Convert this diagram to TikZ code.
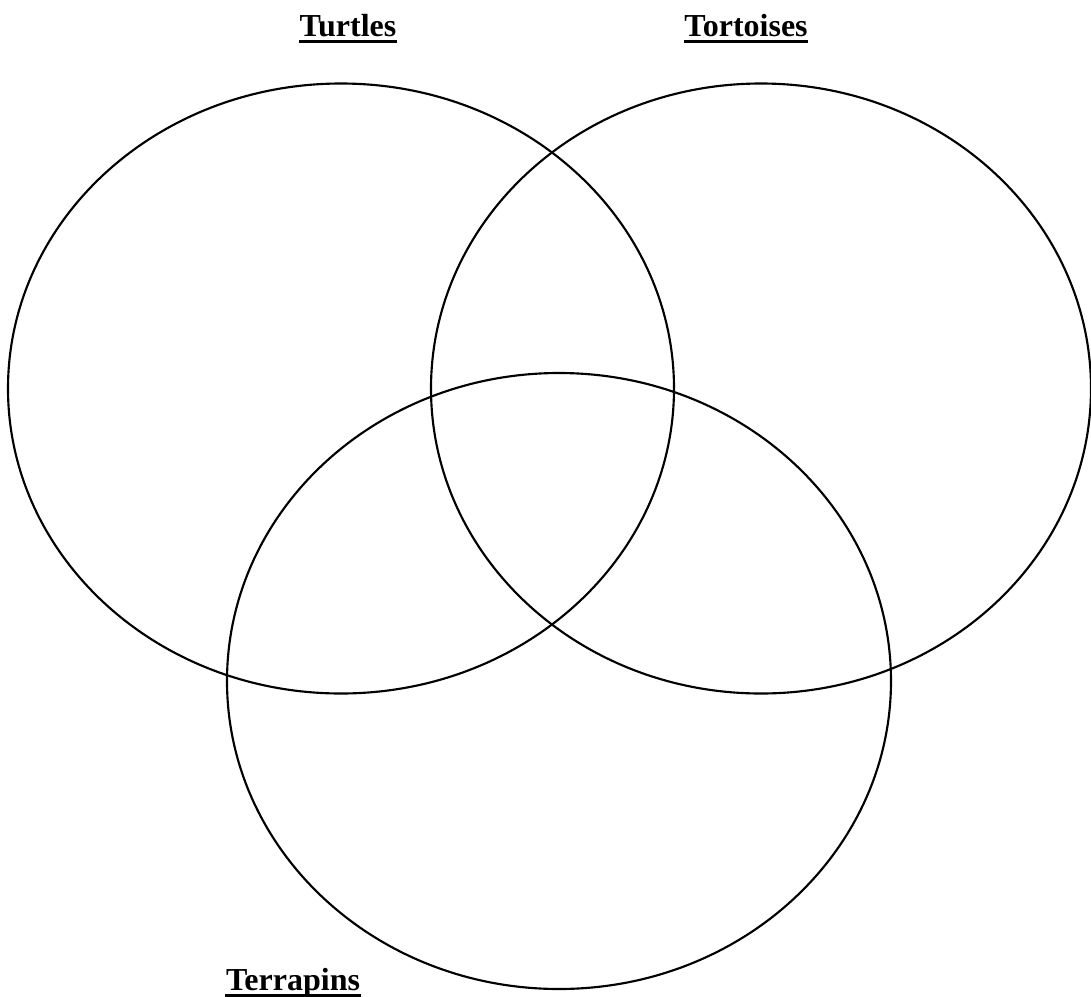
\documentclass[tikz,border=0pt]{standalone}
\usepackage{fontspec}
\setmainfont{Liberation Serif}
\usetikzlibrary{positioning}
\tikzset{
  % Venn
  vset/.style={draw=black,line width=0.8pt},
  vlab/.style={font=\fontsize{12}{14}\selectfont\bfseries,inner sep=0pt,anchor=base},
  uline/.style={draw=black,line width=1.2pt},
}
\begin{document}
\begin{tikzpicture}[x=0.375pt,y=-0.375pt]
  \useasboundingbox (0,0) rectangle (1091,997);
  \draw[vset] (341,388.5) ellipse [x radius=333,y radius=305];
  \draw[vset] (761,388.5) ellipse [x radius=330,y radius=305];
  \draw[vset] (559,681) ellipse [x radius=332,y radius=308];
  \node[vlab] (turtles) at (348,36) {Turtles};
  \node[vlab] (tortoises) at (746,36) {Tortoises};
  \node[vlab] (terrapins) at (293,990) {Terrapins};
  % underlines
  \foreach \n in {turtles,tortoises,terrapins}
    \draw[uline] ([yshift=-2pt]\n.base west) -- ([yshift=-2pt]\n.base east);
\end{tikzpicture}
\end{document}
